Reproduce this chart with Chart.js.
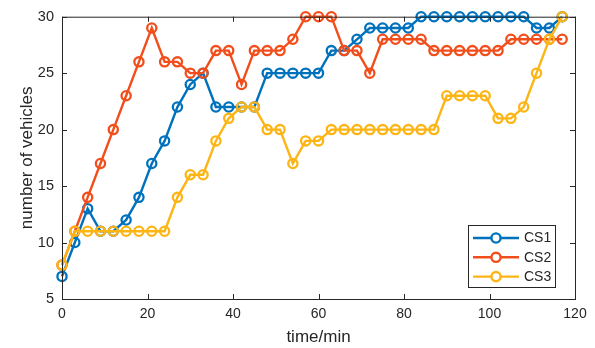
<!DOCTYPE html>
<html>
<head>
<meta charset="utf-8">
<script src="https://cdn.jsdelivr.net/npm/chart.js@4/dist/chart.umd.min.js"></script>
<style>
  html, body { margin: 0; padding: 0; background: #fff; }
  #wrap { width: 595px; height: 348px; }
</style>
</head>
<body>
<div id="wrap"><canvas id="chart" width="595" height="348"></canvas></div>
<script>
// Vehicle counts at the three charging stations, sampled every 3 minutes.
const TIMES = [0, 3, 6, 9, 12, 15, 18, 21, 24, 27, 30, 33, 36, 39, 42, 45, 48, 51, 54, 57,
  60, 63, 66, 69, 72, 75, 78, 81, 84, 87, 90, 93, 96, 99, 102, 105, 108, 111, 114, 117];
const CS1 = [7, 10, 13, 11, 11, 12, 14, 17, 19, 22, 24, 25, 22, 22, 22, 22, 25, 25, 25, 25,
  25, 27, 27, 28, 29, 29, 29, 29, 30, 30, 30, 30, 30, 30, 30, 30, 30, 29, 29, 30];
const CS2 = [8, 11, 14, 17, 20, 23, 26, 29, 26, 26, 25, 25, 27, 27, 24, 27, 27, 27, 28, 30,
  30, 30, 27, 27, 25, 28, 28, 28, 28, 27, 27, 27, 27, 27, 27, 28, 28, 28, 28, 28];
const CS3 = [8, 11, 11, 11, 11, 11, 11, 11, 11, 14, 16, 16, 19, 21, 22, 22, 20, 20, 17, 19,
  19, 20, 20, 20, 20, 20, 20, 20, 20, 20, 23, 23, 23, 23, 21, 21, 22, 25, 28, 30];
const SERIES_NAMES = ["CS1", "CS2", "CS3"];
const X_TICKS = [0, 20, 40, 60, 80, 100, 120];
const Y_TICKS = [5, 10, 15, 20, 25, 30];

const COLORS = ["#0072BD", "#F24E1C", "#FDB515"];
const FONT = "'Liberation Sans', Arial, sans-serif";
const AXIS_COLOR = "#262626";

function toPoints(values) {
  return values.map((v, i) => ({ x: TIMES[i], y: v }));
}

// Box around the plot with inward ticks on all four sides, MATLAB style.
const boxPlugin = {
  id: "box",
  afterDatasetsDraw(chart) {
    const { ctx, chartArea: a, scales } = chart;
    const len = 5;
    ctx.save();
    ctx.strokeStyle = AXIS_COLOR;
    ctx.lineWidth = 1;
    ctx.strokeRect(a.left + 0.5, a.top + 0.5, a.right - a.left, a.bottom - a.top);
    ctx.beginPath();
    X_TICKS.forEach((t) => {
      const px = Math.round(scales.x.getPixelForValue(t)) + 0.5;
      ctx.moveTo(px, a.bottom);
      ctx.lineTo(px, a.bottom - len);
      ctx.moveTo(px, a.top);
      ctx.lineTo(px, a.top + len);
    });
    Y_TICKS.forEach((t) => {
      const py = Math.round(scales.y.getPixelForValue(t)) + 0.5;
      ctx.moveTo(a.left, py);
      ctx.lineTo(a.left + len, py);
      ctx.moveTo(a.right, py);
      ctx.lineTo(a.right - len, py);
    });
    ctx.stroke();
    ctx.restore();
  },
};

// Legend inside the lower right corner of the plot.
const legendPlugin = {
  id: "innerLegend",
  afterDraw(chart) {
    const { ctx, chartArea: a } = chart;
    const w = 87, h = 62;
    const x0 = a.right - 20 - w, y0 = a.bottom - 12 - h;
    ctx.save();
    ctx.fillStyle = "#fff";
    ctx.fillRect(x0, y0, w, h);
    ctx.strokeStyle = AXIS_COLOR;
    ctx.lineWidth = 1;
    ctx.strokeRect(x0 + 0.5, y0 + 0.5, w, h);
    ctx.font = "14px " + FONT;
    ctx.textBaseline = "middle";
    SERIES_NAMES.forEach((name, i) => {
      const y = y0 + 13 + i * 19.3;
      ctx.strokeStyle = COLORS[i];
      ctx.lineWidth = 2.4;
      ctx.beginPath();
      ctx.moveTo(x0 + 5, y);
      ctx.lineTo(x0 + 51, y);
      ctx.stroke();
      ctx.beginPath();
      ctx.arc(x0 + 28, y, 4.6, 0, Math.PI * 2);
      ctx.fillStyle = "#fff";
      ctx.fill();
      ctx.stroke();
      ctx.fillStyle = AXIS_COLOR;
      ctx.fillText(name, x0 + 56, y + 0.5);
    });
    ctx.restore();
  },
};

function makeDataset(i, values) {
  return {
    label: SERIES_NAMES[i],
    data: toPoints(values),
    borderColor: COLORS[i],
    pointBorderColor: COLORS[i],
    pointBackgroundColor: "rgba(0,0,0,0)",
    borderWidth: 2.4,
    pointRadius: 4.6,
    pointBorderWidth: 2.3,
    tension: 0,
    clip: false,
    order: 3 - i,
  };
}

new Chart(document.getElementById("chart"), {
  type: "line",
  data: {
    datasets: [makeDataset(0, CS1), makeDataset(1, CS2), makeDataset(2, CS3)],
  },
  plugins: [boxPlugin, legendPlugin],
  options: {
    responsive: false,
    animation: false,
    layout: { padding: { top: 14, right: 20, left: 0, bottom: 0 } },
    plugins: { legend: { display: false }, tooltip: { enabled: false } },
    scales: {
      x: {
        type: "linear",
        min: 0,
        max: 120,
        afterBuildTicks: (s) => { s.ticks = X_TICKS.map((v) => ({ value: v })); },
        afterFit: (s) => { s.height = 49; },
        grid: { display: false, drawTicks: false },
        border: { display: false },
        ticks: { padding: 7, color: AXIS_COLOR, font: { family: FONT, size: 14 }, maxRotation: 0 },
        title: {
          display: true,
          text: "time/min",
          color: AXIS_COLOR,
          font: { family: FONT, size: 17 },
          padding: { top: 0, bottom: 0 },
        },
      },
      y: {
        type: "linear",
        min: 5,
        max: 30,
        afterBuildTicks: (s) => { s.ticks = Y_TICKS.map((v) => ({ value: v })); },
        afterFit: (s) => { s.width = 62; },
        grid: { display: false, drawTicks: false },
        border: { display: false },
        ticks: { padding: 8, color: AXIS_COLOR, font: { family: FONT, size: 14.5 } },
        title: {
          display: true,
          text: "number of vehicles",
          color: AXIS_COLOR,
          font: { family: FONT, size: 17 },
          padding: { top: 17, bottom: 0 },
        },
      },
    },
  },
});
</script>
</body>
</html>
